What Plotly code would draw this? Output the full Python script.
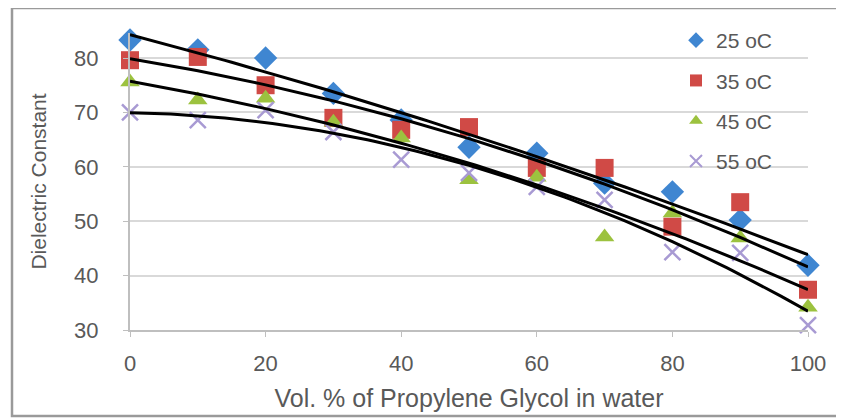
import numpy as np
import plotly.graph_objects as go

x_vals = [0, 10, 20, 30, 40, 50, 60, 70, 80, 90, 100]
t25 = [83.3, 81.5, 80.0, 73.5, 68.6, 63.6, 62.5, 57.0, 55.4, 50.2, 41.9]
t35 = [79.6, 80.2, 75.0, 69.0, 66.8, 67.3, 59.8, 59.8, 49.0, 53.5, 37.4]
t45 = [75.6, 72.3, 72.6, 68.2, 65.3, 57.6, 58.1, 47.1, 51.5, 46.9, 34.2]
t55 = [70.0, 68.6, 70.4, 66.4, 61.3, 58.9, 56.3, 53.9, 44.3, 44.2, 30.9]
names = ["25 oC", "35 oC", "45 oC", "55 oC"]
x_ticks = [0, 20, 40, 60, 80, 100]
y_ticks = [30, 40, 50, 60, 70, 80]

series = [t25, t35, t45, t55]
colors = ["#3f86d1", "#d04a46", "#9cc23f", "#a89ad3"]
symbols = ["diamond", "square", "triangle-up", "x-thin-open"]
sizes = [18, 18, 17, 16]

fig = go.Figure()
FONT = "Liberation Sans, Arial, sans-serif"

for i, (ys, nm) in enumerate(zip(series, names)):
    if symbols[i] == "x-thin-open":
        marker = dict(symbol=symbols[i], size=sizes[i], color=colors[i],
                      line=dict(color=colors[i], width=2.5))
    else:
        marker = dict(symbol=symbols[i], size=sizes[i], color=colors[i],
                      line=dict(width=0))
    fig.add_trace(go.Scatter(x=x_vals, y=ys, mode="markers", name=nm,
                             marker=marker, cliponaxis=False,
                             legendgroup=nm))

xs = np.linspace(0, 100, 101)
for ys in series:
    c = np.polyfit(x_vals, ys, 2)
    fig.add_trace(go.Scatter(x=xs, y=np.polyval(c, xs), mode="lines",
                             line=dict(color="black", width=3),
                             showlegend=False, hoverinfo="skip",
                             cliponaxis=False))

# figure pixel geometry (page body adds 8px offset)
W, H = 836, 411
pl, pr, pt, pb = 122, 800, 25, 322

def px(xp):
    return (xp - pl) / (pr - pl)

def py(yp):
    return (pb - yp) / (pb - pt)

fig.add_shape(type="rect", xref="paper", yref="paper",
              x0=px(4), x1=px(830), y0=py(408), y1=py(0),
              line=dict(color="#9a9a9a", width=2.5), layer="below")

fig.update_layout(
    width=W, height=H,
    margin=dict(l=pl, r=W - pr, t=pt, b=H - pb, autoexpand=False),
    paper_bgcolor="white", plot_bgcolor="white",
    font=dict(family=FONT, color="#595959"),
    showlegend=True,
    legend=dict(x=px(668), y=py(12), xanchor="left", yanchor="top",
                font=dict(size=21, color="#595959", family=FONT),
                bgcolor="rgba(255,255,255,0)", tracegroupgap=10,
                itemsizing="constant", itemwidth=30),
    xaxis=dict(range=[0, 100], tickvals=x_ticks, showgrid=False,
               zeroline=False, showline=True, linecolor="#bfbfbf", linewidth=2,
               ticks="outside", ticklen=5, tickcolor="#bfbfbf",
               tickfont=dict(size=22, color="#595959"),
               ticklabelstandoff=8,
               title=dict(text="Vol. % of Propylene Glycol in water",
                          font=dict(size=25, color="#595959"), standoff=14)),
    yaxis=dict(range=[30, 84.6], tickvals=y_ticks, showgrid=True,
               gridcolor="#d9d9d9", gridwidth=2,
               zeroline=False, showline=True, linecolor="#bfbfbf", linewidth=2,
               ticks="outside", ticklen=5, tickcolor="#bfbfbf",
               tickfont=dict(size=22, color="#595959"),
               ticklabelstandoff=20,
               title=dict(text="Dielectric Constant",
                          font=dict(size=21, color="#595959"), standoff=22)),
)

fig.write_html("out.html")
